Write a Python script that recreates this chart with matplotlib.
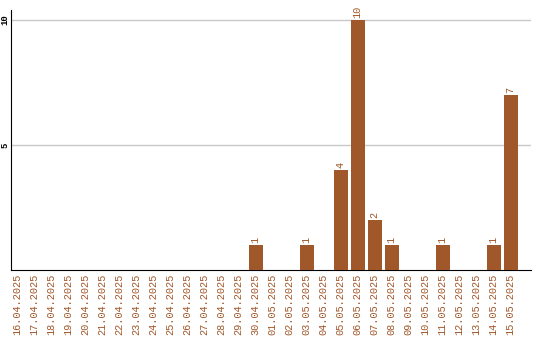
import numpy as np
import matplotlib.pyplot as plt

dates = ["16.04.2025", "17.04.2025", "18.04.2025", "19.04.2025", "20.04.2025",
         "21.04.2025", "22.04.2025", "23.04.2025", "24.04.2025", "25.04.2025",
         "26.04.2025", "27.04.2025", "28.04.2025", "29.04.2025", "30.04.2025",
         "01.05.2025", "02.05.2025", "03.05.2025", "04.05.2025", "05.05.2025",
         "06.05.2025", "07.05.2025", "08.05.2025", "09.05.2025", "10.05.2025",
         "11.05.2025", "12.05.2025", "13.05.2025", "14.05.2025", "15.05.2025"]
counts = [0, 0, 0, 0, 0, 0, 0, 0, 0, 0, 0, 0, 0, 0, 1,
          0, 0, 1, 0, 4, 10, 2, 1, 0, 0, 1, 0, 0, 1, 7]
yticks = [5, 10]

brown = '#a0572a'
mono = 'Liberation Mono'

fig = plt.figure(figsize=(5.4, 3.4), dpi=100)
ax = fig.add_axes([10.5 / 540, 70 / 340, 520.5 / 540, 260 / 340])

x = np.arange(len(dates))
ax.bar(x, counts, width=14 / 17, color=brown, zorder=3)

for xi, v in zip(x, counts):
    if v > 0:
        ax.text(xi, v + 0.08, str(v), rotation=90, ha='center', va='bottom',
                color=brown, fontsize=7.4, family=mono)

ax.set_xlim(-7 / 17, 30.2)
ax.set_ylim(0, 10.4)
ax.set_yticks(yticks)
ax.set_yticklabels([str(t) for t in yticks], rotation=90, va='center',
                   fontsize=6.5, family=mono, fontweight='bold')
ax.yaxis.grid(True, color='#c8c8c8', lw=1, zorder=0)
ax.set_xticks(x)
ax.set_xticklabels(dates, rotation=90, color=brown, fontsize=7.4, family=mono)
ax.tick_params(length=0, pad=3)
ax.tick_params(axis='y', pad=1)

for s in ['top', 'right']:
    ax.spines[s].set_visible(False)
ax.spines['left'].set_color('black')
ax.spines['bottom'].set_color('black')

fig.savefig('out.png', dpi=100)
